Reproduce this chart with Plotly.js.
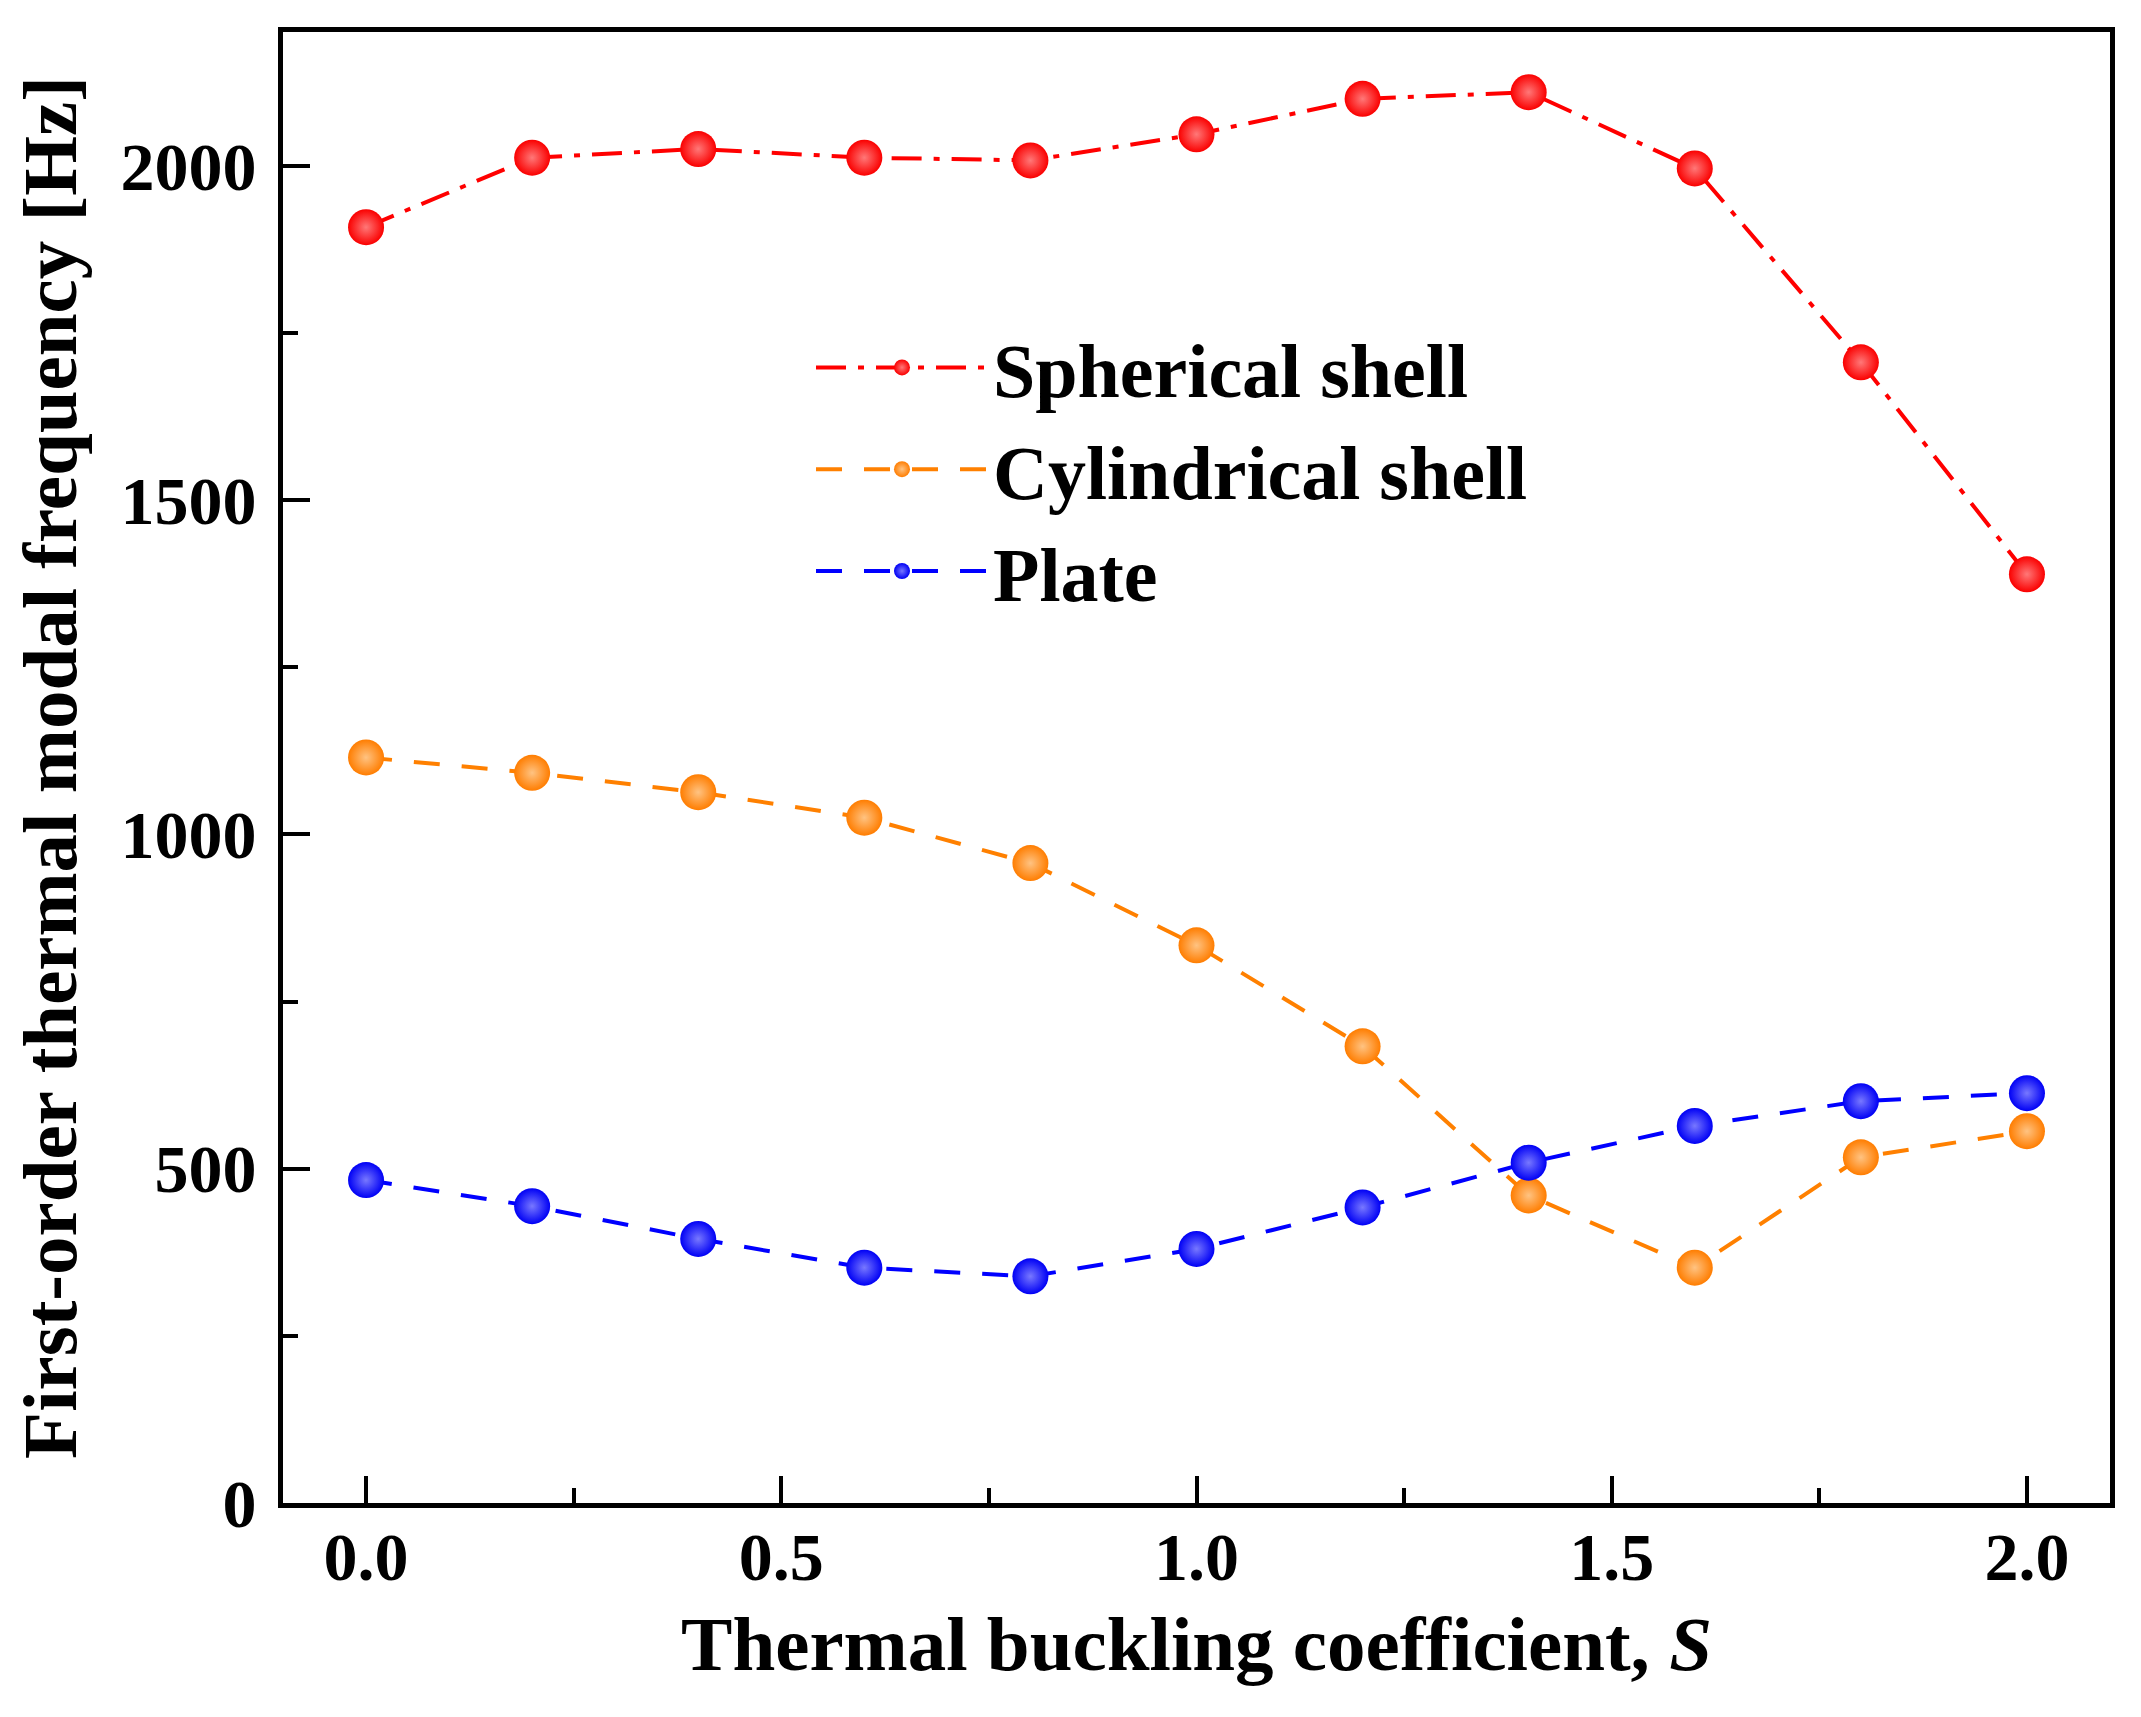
<!DOCTYPE html>
<html>
<head>
<meta charset="utf-8">
<script src="https://cdn.plot.ly/plotly-3.0.1.min.js"></script>
<style>
  html, body { margin: 0; padding: 0; background: #fff; }
  #chart { width: 2141px; height: 1717px; }
</style>
</head>
<body>
<div id="chart"></div>
<script>
// thermal buckling coefficient S
let S = [0.0, 0.2, 0.4, 0.6, 0.8, 1.0, 1.2, 1.4, 1.6, 1.8, 2.0];

// first-order thermal modal frequency [Hz]
let spherical = [1908, 2012, 2025, 2012, 2008, 2047, 2100, 2110, 1996, 1706, 1389];
let cylindrical = [1115, 1092, 1063, 1025, 957, 834, 683, 460, 352, 517, 556];
let plate = [483, 444, 395, 352, 339, 380, 442, 509, 564, 601, 613];

let names = ['Spherical shell', 'Cylindrical shell', 'Plate'];
let yTicks = [0, 500, 1000, 1500, 2000];
let xTicks = [0.0, 0.5, 1.0, 1.5, 2.0];

let serif = 'Liberation Serif, Times New Roman, serif';

function ball(c, hi) {
    return {size: 36, color: c, line: {width: 0}, gradient: {type: 'radial', color: hi}};
}

let traceSph = {x: S, y: spherical, type: 'scatter', mode: 'lines+markers', name: names[0],
    line: {color: 'rgb(255,0,0)', width: 4, dash: '30px,12px,6px,12px'},
    marker: ball('rgb(250,0,0)', 'rgb(255,120,120)')};
let traceCyl = {x: S, y: cylindrical, type: 'scatter', mode: 'lines+markers', name: names[1],
    line: {color: 'rgb(255,128,0)', width: 4, dash: '26px,22px'},
    marker: ball('rgb(255,125,0)', 'rgb(255,195,130)')};
let tracePlate = {x: S, y: plate, type: 'scatter', mode: 'lines+markers', name: names[2],
    line: {color: 'rgb(0,0,255)', width: 4, dash: '26px,22px'},
    marker: ball('rgb(0,0,245)', 'rgb(120,120,255)')};

let axisFont = {family: serif, size: 68, color: '#000', weight: 700};
let titleFont = {family: serif, size: 77, color: '#000', weight: 700};

let layout = {
    width: 2141, height: 1717,
    margin: {l: 283, r: 31, t: 32, b: 214},
    paper_bgcolor: '#fff', plot_bgcolor: '#fff',
    showlegend: true,
    legend: {x: 0.289, y: 0.81, xanchor: 'left', yanchor: 'top',
        font: {family: serif, size: 76, color: '#000', weight: 700},
        bgcolor: 'rgba(0,0,0,0)', itemwidth: 172, tracegroupgap: 0},
    xaxis: {
        range: [-0.1, 2.1], tickvals: xTicks, ticktext: xTicks.map(v => v.toFixed(1)),
        ticks: 'inside', ticklen: 27, tickwidth: 4, tickcolor: '#000',
        minor: {dtick: 0.25, tick0: 0, ticks: 'inside', ticklen: 15, tickwidth: 4, tickcolor: '#000'},
        showline: true, linewidth: 5, linecolor: '#000', mirror: true,
        showgrid: false, zeroline: false,
        tickfont: axisFont, ticklabelstandoff: -10,
        title: {text: 'Thermal buckling coefficient, <i>S</i>', standoff: 24, font: titleFont}
    },
    yaxis: {
        range: [0, 2200], tickvals: yTicks,
        ticks: 'inside', ticklen: 27, tickwidth: 4, tickcolor: '#000',
        minor: {dtick: 250, tick0: 0, ticks: 'inside', ticklen: 15, tickwidth: 4, tickcolor: '#000'},
        showline: true, linewidth: 5, linecolor: '#000', mirror: true,
        showgrid: false, zeroline: false,
        tickfont: axisFont, ticklabelstandoff: 8,
        title: {text: 'First-order thermal modal frequency [Hz]', standoff: 20, font: titleFont}
    }
};

drawGraph = document.getElementById('chart');
graph = [traceSph, traceCyl, tracePlate];

Plotly.newPlot(drawGraph, graph, layout, {displayModeBar: false, staticPlot: true});
</script>
</body>
</html>
